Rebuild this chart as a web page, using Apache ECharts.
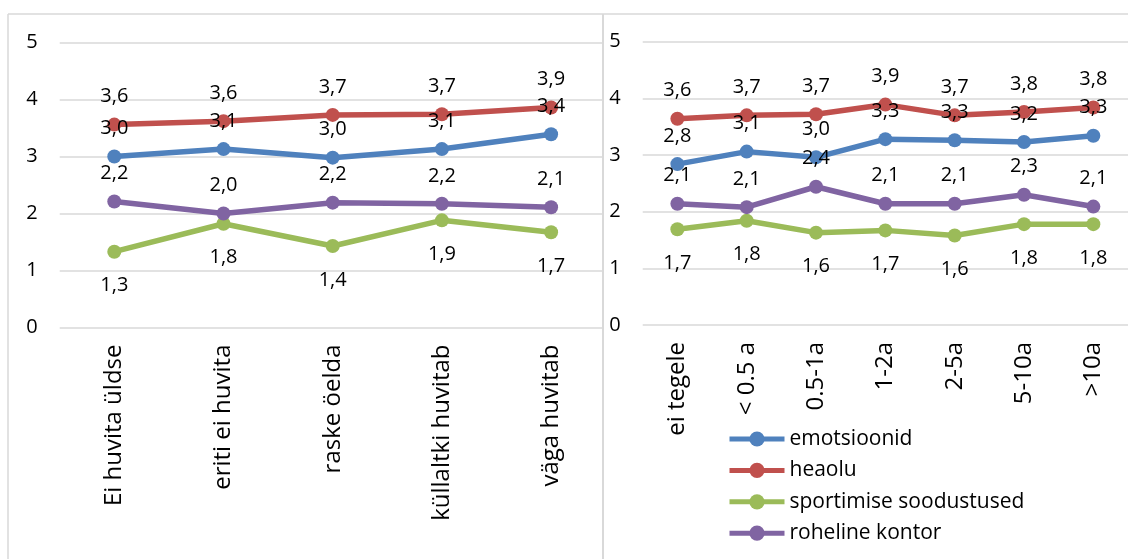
<!DOCTYPE html>
<html><head><meta charset="utf-8">
<script src="https://cdn.jsdelivr.net/npm/echarts@6/dist/echarts.min.js"></script>
<style>html,body{margin:0;padding:0;background:#fff}#c{width:1128px;height:559px}</style>
</head><body><div id="c"></div>
<script>
const leftCategories = ['Ei huvita üldse', 'eriti ei huvita', 'raske öelda', 'küllaltki huvitab', 'väga huvitab'];
const rightCategories = ['ei tegele', '< 0.5 a', '0.5-1a', '1-2a', '2-5a', '5-10a', '>10a'];
const seriesNames = ['emotsioonid', 'heaolu', 'sportimise soodustused', 'roheline kontor'];
const leftEmotsioonid = [3.00, 3.13, 2.98, 3.13, 3.39];
const leftHeaolu = [3.56, 3.62, 3.73, 3.74, 3.86];
const leftSport = [1.33, 1.82, 1.43, 1.88, 1.67];
const leftRoheline = [2.21, 2.00, 2.19, 2.17, 2.11];
const rightEmotsioonid = [2.84, 3.06, 2.96, 3.28, 3.26, 3.23, 3.34];
const rightHeaolu = [3.64, 3.70, 3.72, 3.89, 3.70, 3.76, 3.84];
const rightSport = [1.69, 1.84, 1.63, 1.67, 1.58, 1.78, 1.78];
const rightRoheline = [2.14, 2.08, 2.44, 2.14, 2.14, 2.30, 2.09];

const colors = ['#4F81BD', '#C0504D', '#9BBB59', '#8064A2'];
const labelPos = ['top', 'top', 'bottom', 'top'];
const FONT = 'Open Sans';
const GRID_COLOR = '#d9d9d9';

const leftData = [leftEmotsioonid, leftHeaolu, leftSport, leftRoheline];
const rightData = [rightEmotsioonid, rightHeaolu, rightSport, rightRoheline];

function fmt(p) { return p.value.toFixed(1).replace('.', ','); }

function makeSeries(dataArr, axisIdx) {
  return dataArr.map((d, i) => ({
    name: seriesNames[i],
    type: 'line',
    xAxisIndex: axisIdx,
    yAxisIndex: axisIdx,
    data: d,
    color: colors[i],
    symbol: 'circle',
    symbolSize: 14,
    lineStyle: { width: 5.5, color: colors[i] },
    itemStyle: { color: colors[i] },
    label: {
      show: true,
      position: labelPos[i],
      distance: labelPos[i] === 'bottom' ? 17 : 11,
      formatter: fmt,
      fontFamily: FONT,
      fontSize: 20,
      color: '#000'
    },
    emphasis: { disabled: true },
    animation: false
  }));
}

function yAxisCfg(gridIndex, showLabel, showSplit, margin) {
  return {
    type: 'value', gridIndex: gridIndex, min: 0, max: 5, interval: 1,
    axisLine: { show: false }, axisTick: { show: false },
    axisLabel: { show: showLabel, fontFamily: FONT, fontSize: 20, color: '#000', margin: margin },
    splitLine: { show: showSplit, lineStyle: { color: GRID_COLOR, width: 1.5 } }
  };
}

function xAxisCfg(gridIndex, cats, margin) {
  return {
    type: 'category', gridIndex: gridIndex, data: cats, boundaryGap: true,
    axisLine: { show: false }, axisTick: { show: false },
    axisLabel: { rotate: 90, interval: 0, margin: margin, fontFamily: FONT, fontSize: 24, color: '#000' },
    splitLine: { show: false }
  };
}

const chart = echarts.init(document.getElementById('c'), null, { renderer: 'canvas' });
chart.setOption({
  animation: false,
  backgroundColor: '#fff',
  grid: [
    { left: 59.7, top: 42.5, width: 546, height: 285 },
    { left: 642.7, top: 41.7, width: 497.7, height: 283.3 },
    { left: 59.7, top: 42.5, width: 543.3, height: 285 }
  ],
  xAxis: [
    xAxisCfg(0, leftCategories, 17),
    xAxisCfg(1, rightCategories, 17),
    { type: 'value', gridIndex: 2, min: 0, max: 1, show: false }
  ],
  yAxis: [
    yAxisCfg(0, true, false, 22),
    yAxisCfg(1, true, true, 22),
    yAxisCfg(2, false, true, 22)
  ],
  legend: {
    data: seriesNames,
    orient: 'vertical',
    left: 727, top: 428.5,
    padding: 0,
    itemWidth: 55, itemHeight: 19, itemGap: 10.4,
    lineStyle: { width: 5 },
    textStyle: { fontFamily: FONT, fontSize: 21, color: '#000' }
  },
  graphic: [
    { type: 'line', shape: { x1: 8, y1: 14, x2: 1128, y2: 14 }, style: { stroke: GRID_COLOR, lineWidth: 1.5 }, z: -1 },
    { type: 'line', shape: { x1: 8, y1: 14, x2: 8, y2: 559 }, style: { stroke: GRID_COLOR, lineWidth: 1.5 }, z: -1 },
    { type: 'line', shape: { x1: 603, y1: 14, x2: 603, y2: 559 }, style: { stroke: GRID_COLOR, lineWidth: 2 }, z: -1 }
  ],
  series: makeSeries(leftData, 0).concat(makeSeries(rightData, 1))
});
</script></body></html>
